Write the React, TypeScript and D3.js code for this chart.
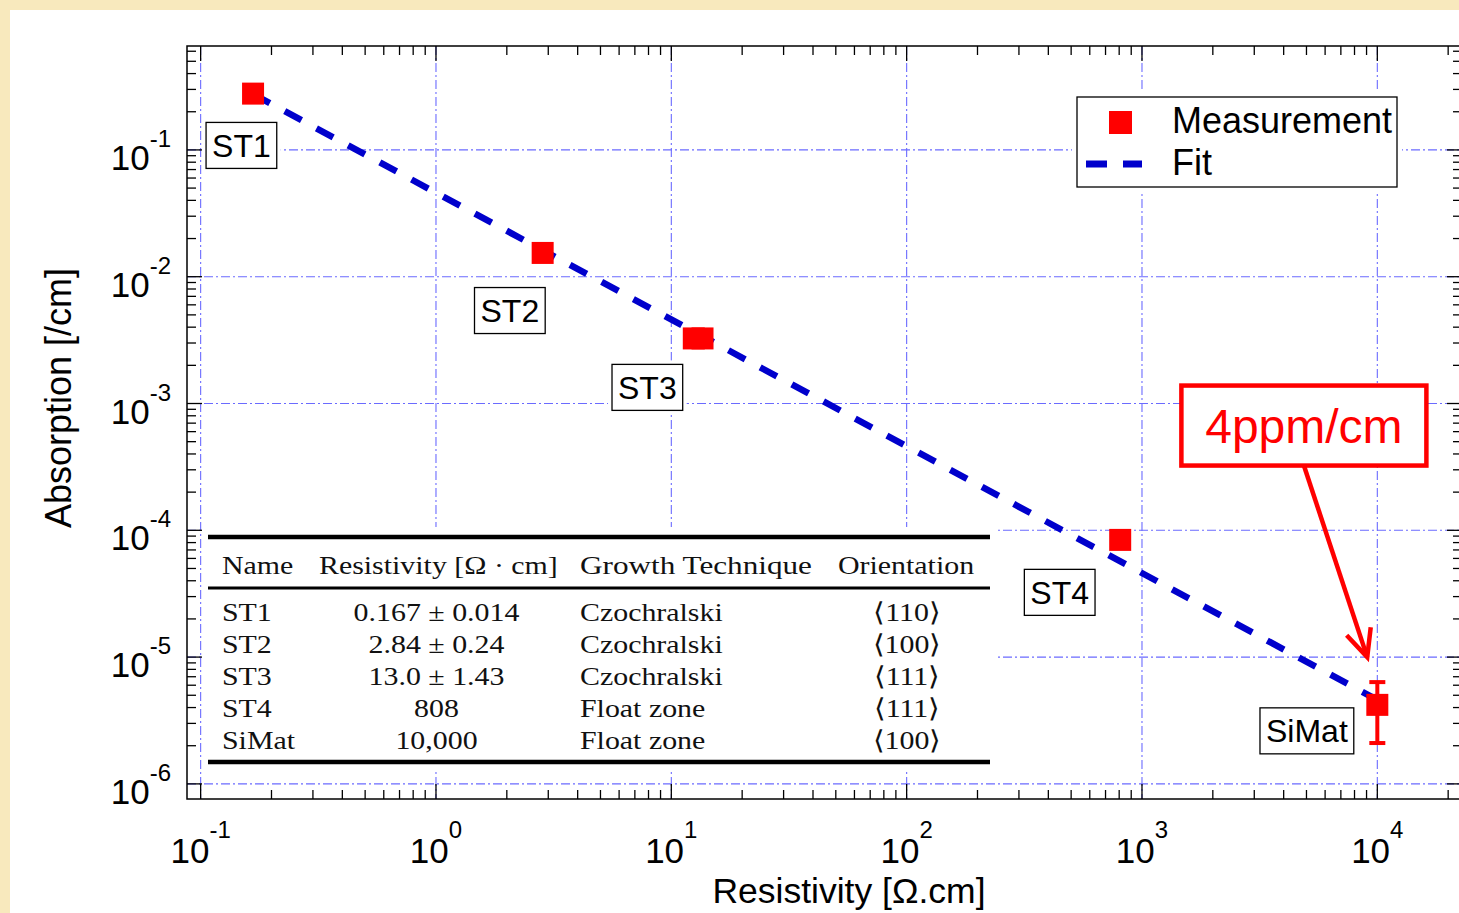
import React, { useEffect, useRef } from 'react';
import * as d3 from 'd3';

const W = 1459;
const H = 913;

// ---- data ----
const measNames = ['ST1', 'ST2', 'ST3', 'ST3', 'ST4', 'SiMat'];
const measRes = [0.167, 2.84, 12.46, 13.57, 808, 10000];
const measAbs = [0.278, 0.0154, 0.00326, 0.00326, 8.4e-5, 4.2e-6];

const errRes = [10000];
const errLow = [2.1e-6];
const errHigh = [6.35e-6];

const fitRes = [0.167, 10000];
const fitAbs = [0.2754, 4.6e-6];

const labelNames = ['ST1', 'ST2', 'ST3', 'ST4', 'SiMat'];
const labelRes = [0.149, 2.06, 7.91, 447, 5020];
const labelAbs = [0.1085, 0.00541, 0.00134, 3.24e-5, 2.62e-6];

const noteText = '4ppm/cm';
const noteRes = [4875];
const noteAbs = [6.7e-4];
const arrowTipRes = [9060];
const arrowTipAbs = [1.0e-5];

const xTickExps = [-1, 0, 1, 2, 3, 4];
const yTickExps = [-6, -5, -4, -3, -2, -1];
const xDomain = [0.0875, 22900];
const yDomain = [7.6e-7, 0.66];

const tableHeader = ['Name', 'Resistivity [Ω · cm]', 'Growth Technique', 'Orientation'];
const tableNames = ['ST1', 'ST2', 'ST3', 'ST4', 'SiMat'];
const tableRes = ['0.167 ± 0.014', '2.84 ± 0.24', '13.0 ± 1.43', '808', '10,000'];
const tableGrowth = ['Czochralski', 'Czochralski', 'Czochralski', 'Float zone', 'Float zone'];
const tableOrient = ['⟨110⟩', '⟨100⟩', '⟨111⟩', '⟨111⟩', '⟨100⟩'];

const legendItems = ['Measurement', 'Fit'];

const SANS = "'Liberation Sans', Arial, sans-serif";
const SERIF = "'Liberation Serif', 'Times New Roman', serif";
const RED = '#ff0000';
const BLUE = '#0000cc';
const GRID = '#6b6bff';

export default function App() {
  const ref = useRef<SVGSVGElement | null>(null);

  useEffect(() => {
    const svg = d3.select(ref.current);
    svg.selectAll('*').remove();

    const L = 187, T = 46, R = 1462, B = 799;
    const x = d3.scaleLog().domain(xDomain).range([L, R]);
    const y = d3.scaleLog().domain(yDomain).range([B, T]);

    // background
    svg.append('rect').attr('width', W).attr('height', H).attr('fill', '#f8e9bd');
    svg.append('rect').attr('x', 10).attr('y', 10).attr('width', W - 10).attr('height', H - 10).attr('fill', '#ffffff');

    const xMajor = xTickExps.map((e) => Math.pow(10, e));
    const yMajor = yTickExps.map((e) => Math.pow(10, e));
    const xMinor: number[] = [];
    for (let e = -1; e <= 4; e++) for (let k = 2; k <= 9; k++) { const v = k * Math.pow(10, e); if (v <= xDomain[1]) xMinor.push(v); }
    const yMinor: number[] = [];
    for (let e = -6; e <= -1; e++) for (let k = 2; k <= 9; k++) { const v = k * Math.pow(10, e); if (v <= yDomain[1]) yMinor.push(v); }

    // grid
    const g = svg.append('g').attr('stroke', GRID).attr('stroke-width', 1.1).attr('stroke-dasharray', '9,3,2,3');
    xMajor.forEach((v) => g.append('line').attr('x1', x(v)).attr('x2', x(v)).attr('y1', T).attr('y2', B));
    yMajor.forEach((v) => g.append('line').attr('y1', y(v)).attr('y2', y(v)).attr('x1', L).attr('x2', R));

    // ticks & frame
    const t = svg.append('g').attr('stroke', '#000').attr('stroke-width', 1.3);
    const MAJ = 15, MIN = 9;
    const xt = (v: number, len: number) => {
      t.append('line').attr('x1', x(v)).attr('x2', x(v)).attr('y1', B).attr('y2', B - len);
      t.append('line').attr('x1', x(v)).attr('x2', x(v)).attr('y1', T).attr('y2', T + len);
    };
    const yt = (v: number, len: number) => {
      t.append('line').attr('y1', y(v)).attr('y2', y(v)).attr('x1', L).attr('x2', L + len);
      t.append('line').attr('y1', y(v)).attr('y2', y(v)).attr('x1', R).attr('x2', R - len);
    };
    xMajor.forEach((v) => xt(v, MAJ));
    xMinor.forEach((v) => xt(v, MIN));
    yMajor.forEach((v) => yt(v, MAJ));
    yMinor.forEach((v) => yt(v, MIN));
    svg.append('rect').attr('x', L).attr('y', T).attr('width', R - L).attr('height', B - T)
      .attr('fill', 'none').attr('stroke', '#000').attr('stroke-width', 1.5);

    // tick labels
    xTickExps.forEach((e) => {
      const tx = svg.append('text').attr('x', x(Math.pow(10, e))).attr('y', 863)
        .attr('text-anchor', 'middle').attr('font-family', SANS).attr('font-size', 35).attr('fill', '#000');
      tx.append('tspan').text('10');
      tx.append('tspan').attr('dy', -25).attr('font-size', 24).text(String(e));
    });
    yTickExps.forEach((e) => {
      const ty = svg.append('text').attr('x', 171).attr('y', y(Math.pow(10, e)) + 20)
        .attr('text-anchor', 'end').attr('font-family', SANS).attr('font-size', 35).attr('fill', '#000');
      ty.append('tspan').text('10');
      ty.append('tspan').attr('dy', -23).attr('font-size', 24).text(String(e));
    });

    // axis titles
    svg.append('text').attr('x', 849).attr('y', 903).attr('text-anchor', 'middle')
      .attr('font-family', SANS).attr('font-size', 35.5).attr('fill', '#000').text('Resistivity [Ω.cm]');
    svg.append('text').attr('transform', 'translate(71,398) rotate(-90)').attr('text-anchor', 'middle')
      .attr('font-family', SANS).attr('font-size', 36).attr('fill', '#000').text('Absorption [/cm]');

    // table inset
    const tb = svg.append('g');
    tb.append('rect').attr('x', 204).attr('y', 527).attr('width', 794).attr('height', 243).attr('fill', '#fff');
    tb.append('line').attr('x1', 208).attr('x2', 990).attr('y1', 537).attr('y2', 537).attr('stroke', '#000').attr('stroke-width', 4.5);
    tb.append('line').attr('x1', 208).attr('x2', 990).attr('y1', 588).attr('y2', 588).attr('stroke', '#000').attr('stroke-width', 3);
    tb.append('line').attr('x1', 208).attr('x2', 990).attr('y1', 762).attr('y2', 762).attr('stroke', '#000').attr('stroke-width', 4.5);
    const ttext = (s: string, px: number, py: number, anchor: string, sx = 1.15) => {
      tb.append('text').attr('transform', `translate(${px},${py}) scale(${sx},1)`)
        .attr('text-anchor', anchor).attr('font-family', SERIF).attr('font-size', 26).attr('fill', '#111').text(s);
    };
    ttext(tableHeader[0], 222, 574, 'start');
    ttext(tableHeader[1], 319, 574, 'start');
    ttext(tableHeader[2], 580, 574, 'start', 1.2);
    ttext(tableHeader[3], 838, 574, 'start');
    tableNames.forEach((n, i) => {
      const by = 621 + i * 32;
      ttext(n, 222, by, 'start');
      ttext(tableRes[i], 436.5, by, 'middle');
      ttext(tableGrowth[i], 580, by, 'start');
      ttext(tableOrient[i], 907, by, 'middle');
    });

    // fit line
    const line = d3.line<number>().x((_, i) => x(fitRes[i])).y((d) => y(d));
    svg.append('path').attr('d', line(fitAbs) as string).attr('fill', 'none')
      .attr('stroke', BLUE).attr('stroke-width', 6.5).attr('stroke-dasharray', '19,17');

    // error bars
    errRes.forEach((r, i) => {
      const ex = x(r);
      const eg = svg.append('g').attr('stroke', RED).attr('stroke-width', 4);
      eg.append('line').attr('x1', ex).attr('x2', ex).attr('y1', y(errLow[i])).attr('y2', y(errHigh[i]));
      eg.append('line').attr('x1', ex - 8).attr('x2', ex + 8).attr('y1', y(errLow[i])).attr('y2', y(errLow[i]));
      eg.append('line').attr('x1', ex - 8).attr('x2', ex + 8).attr('y1', y(errHigh[i])).attr('y2', y(errHigh[i]));
    });

    // measurement markers
    const S = 22;
    measRes.forEach((r, i) => {
      svg.append('rect').attr('x', x(r) - S / 2).attr('y', y(measAbs[i]) - S / 2)
        .attr('width', S).attr('height', S).attr('fill', RED).attr('data-name', measNames[i]);
    });

    // sample labels
    labelNames.forEach((n, i) => {
      const cx = x(labelRes[i]);
      const cy = y(labelAbs[i]);
      const lg = svg.append('g');
      const bg = lg.append('rect').attr('fill', '#fff');
      const box = lg.append('rect').attr('fill', '#fff').attr('stroke', '#000').attr('stroke-width', 1.3);
      const txt = lg.append('text').attr('x', cx).attr('y', cy + 11.5).attr('text-anchor', 'middle')
        .attr('font-family', SANS).attr('font-size', 32).attr('fill', '#000').text(n);
      const tw = (txt.node() as SVGTextElement).getComputedTextLength();
      const bw = tw + 12, bh = 46;
      box.attr('x', cx - bw / 2).attr('y', cy - bh / 2).attr('width', bw).attr('height', bh);
      bg.attr('x', cx - bw / 2 - 4).attr('y', cy - bh / 2 - 4).attr('width', bw + 8).attr('height', bh + 8);
    });

    // legend
    const lgd = svg.append('g');
    lgd.append('rect').attr('x', 1072).attr('y', 92).attr('width', 330).attr('height', 100).attr('fill', '#fff');
    lgd.append('rect').attr('x', 1077).attr('y', 97).attr('width', 320).attr('height', 90)
      .attr('fill', '#fff').attr('stroke', '#000').attr('stroke-width', 1.3);
    lgd.append('rect').attr('x', 1109).attr('y', 111).attr('width', 23).attr('height', 23).attr('fill', RED);
    lgd.append('line').attr('x1', 1086).attr('x2', 1142).attr('y1', 164).attr('y2', 164)
      .attr('stroke', BLUE).attr('stroke-width', 7).attr('stroke-dasharray', '21,16');
    legendItems.forEach((s, i) => {
      lgd.append('text').attr('x', 1172).attr('y', 133 + i * 42).attr('font-family', SANS)
        .attr('font-size', 36).attr('fill', '#000').text(s);
    });

    // red annotation
    const nx = x(noteRes[0]);
    const ny = y(noteAbs[0]);
    const nw = 245, nh = 80;
    const an = svg.append('g');
    an.append('rect').attr('x', nx - nw / 2).attr('y', ny - nh / 2).attr('width', nw).attr('height', nh)
      .attr('fill', '#fff').attr('stroke', RED).attr('stroke-width', 4.5);
    an.append('text').attr('x', nx).attr('y', ny + 17).attr('text-anchor', 'middle')
      .attr('font-family', SANS).attr('font-size', 48).attr('fill', RED).text(noteText);
    const ax0 = nx, ay0 = ny + nh / 2;
    const ax1 = x(arrowTipRes[0]), ay1 = y(arrowTipAbs[0]);
    an.append('line').attr('x1', ax0).attr('y1', ay0).attr('x2', ax1).attr('y2', ay1)
      .attr('stroke', RED).attr('stroke-width', 4.5);
    const ang = Math.atan2(ay0 - ay1, ax0 - ax1);
    const hl = 30, ha = (25 * Math.PI) / 180;
    const p1 = [ax1 + hl * Math.cos(ang + ha), ay1 + hl * Math.sin(ang + ha)];
    const p2 = [ax1 + hl * Math.cos(ang - ha), ay1 + hl * Math.sin(ang - ha)];
    an.append('path').attr('d', `M${p1[0]},${p1[1]} L${ax1},${ay1} L${p2[0]},${p2[1]}`)
      .attr('fill', 'none').attr('stroke', RED).attr('stroke-width', 4.5).attr('stroke-linejoin', 'miter');
  }, []);

  return (
    <svg ref={ref} width={W} height={H} style={{ position: 'absolute', left: 0, top: 0, display: 'block' }} />
  );
}
